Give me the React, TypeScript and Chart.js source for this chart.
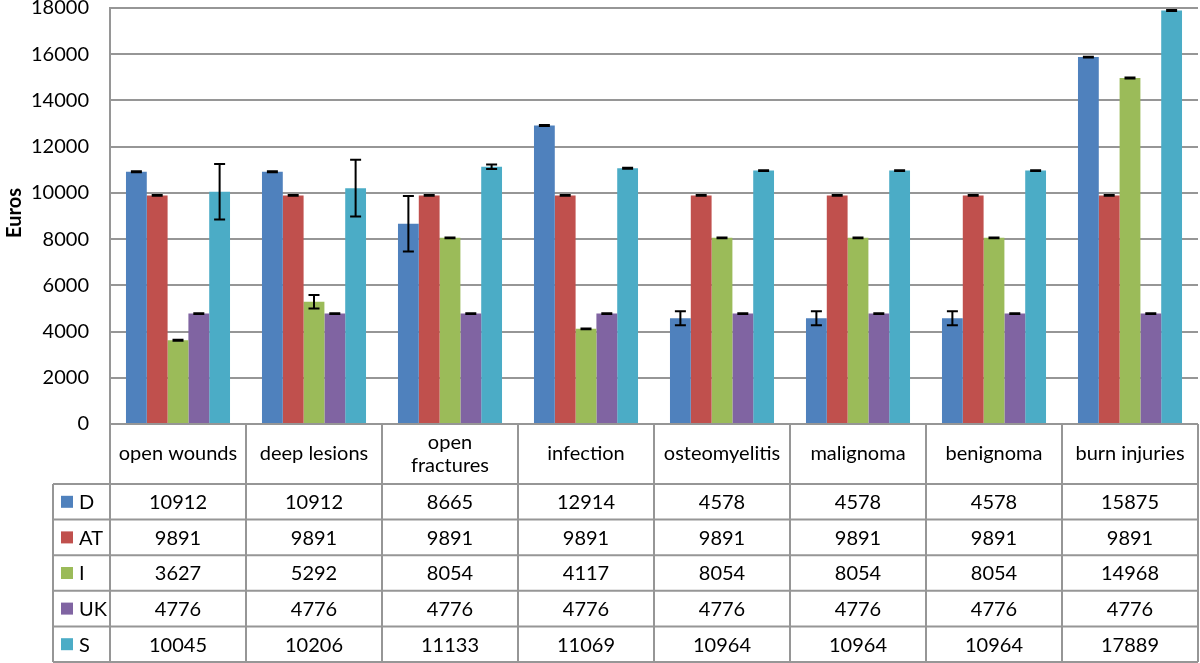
import React, { useEffect, useRef } from 'react';
import { Chart, registerables } from 'chart.js';

Chart.register(...registerables);

const categories = ['open wounds', 'deep lesions', 'open fractures', 'infection', 'osteomyelitis', 'malignoma', 'benignoma', 'burn injuries'];
const seriesNames = ['D', 'AT', 'I', 'UK', 'S'];
const seriesColors = ['#4F81BD', '#C0504D', '#9BBB59', '#8064A2', '#4BACC6'];

const valuesD = [10912, 10912, 8665, 12914, 4578, 4578, 4578, 15875];
const valuesAT = [9891, 9891, 9891, 9891, 9891, 9891, 9891, 9891];
const valuesI = [3627, 5292, 8054, 4117, 8054, 8054, 8054, 14968];
const valuesUK = [4776, 4776, 4776, 4776, 4776, 4776, 4776, 4776];
const valuesS = [10045, 10206, 11133, 11069, 10964, 10964, 10964, 17889];

const errorsD = [20, 20, 1200, 20, 300, 300, 300, 20];
const errorsAT = [20, 20, 20, 20, 20, 20, 20, 20];
const errorsI = [20, 290, 20, 20, 20, 20, 20, 20];
const errorsUK = [20, 20, 20, 20, 20, 20, 20, 20];
const errorsS = [1200, 1230, 100, 20, 20, 20, 20, 20];

const yMin = 0;
const yMax = 18000;
const yStep = 2000;
const yTitle = 'Euros';

const allValues = [valuesD, valuesAT, valuesI, valuesUK, valuesS];
const allErrors = [errorsD, errorsAT, errorsI, errorsUK, errorsS];

const FONT = 'Lato, "Open Sans", sans-serif';
const FS = 20;
const GRID = '#969696';

const tablePlugin = {
  id: 'excelTable',
  afterDatasetsDraw(chart: any) {
    const ctx = chart.ctx;
    const y = chart.scales.y;
    ctx.save();
    ctx.strokeStyle = '#000';
    ctx.lineWidth = 2;
    chart.data.datasets.forEach((ds: any, i: number) => {
      const meta = chart.getDatasetMeta(i);
      const errs = allErrors[i];
      meta.data.forEach((bar: any, j: number) => {
        const v = ds.data[j];
        const e = errs[j];
        const yt = y.getPixelForValue(v + e);
        const yb = y.getPixelForValue(v - e);
        const cw = 5.5;
        ctx.beginPath();
        ctx.moveTo(bar.x, yt);
        ctx.lineTo(bar.x, yb);
        ctx.moveTo(bar.x - cw, yt);
        ctx.lineTo(bar.x + cw, yt);
        ctx.moveTo(bar.x - cw, yb);
        ctx.lineTo(bar.x + cw, yb);
        ctx.stroke();
      });
    });
    ctx.restore();
  },
  afterDraw(chart: any) {
    const ctx = chart.ctx;
    const area = chart.chartArea;
    const n = categories.length;
    const left = area.left;
    const right = area.right;
    const colW = (right - left) / n;
    const top = area.bottom;
    const headerBottom = top + 60;
    const tableBottom = 662;
    const rowH = (tableBottom - headerBottom) / seriesNames.length;
    const legendLeft = 53;

    ctx.save();
    ctx.strokeStyle = GRID;
    ctx.lineWidth = 2;
    ctx.beginPath();
    ctx.moveTo(left, top);
    ctx.lineTo(right, top);
    for (let r = 0; r <= seriesNames.length; r++) {
      const yy = headerBottom + r * rowH;
      ctx.moveTo(legendLeft, yy);
      ctx.lineTo(right, yy);
    }
    for (let k = 0; k <= n; k++) {
      const xx = left + k * colW;
      ctx.moveTo(xx, top);
      ctx.lineTo(xx, tableBottom);
    }
    ctx.moveTo(legendLeft, headerBottom);
    ctx.lineTo(legendLeft, tableBottom);
    ctx.stroke();

    ctx.fillStyle = '#000';
    ctx.font = `${FS}px ${FONT}`;
    ctx.textAlign = 'center';
    ctx.textBaseline = 'middle';
    categories.forEach((cat, k) => {
      const cx = left + (k + 0.5) * colW;
      const cy = (top + headerBottom) / 2;
      if (ctx.measureText(cat).width > colW - 12) {
        const parts = cat.split(' ');
        const lh = 23;
        parts.forEach((p, pi) => {
          ctx.fillText(p, cx, cy + (pi - (parts.length - 1) / 2) * lh);
        });
      } else {
        ctx.fillText(cat, cx, cy);
      }
    });

    seriesNames.forEach((name, r) => {
      const cy = headerBottom + (r + 0.5) * rowH;
      ctx.fillStyle = seriesColors[r];
      ctx.fillRect(61, cy - 6, 12, 12);
      ctx.fillStyle = '#000';
      ctx.textAlign = 'left';
      ctx.fillText(name, 79, cy + 1);
      ctx.textAlign = 'center';
      allValues[r].forEach((v, k) => {
        const cx = left + (k + 0.5) * colW;
        ctx.fillText(String(v), cx, cy + 1);
      });
    });

    ctx.translate(15, 213);
    ctx.rotate(-Math.PI / 2);
    ctx.font = `bold ${FS}px ${FONT}`;
    ctx.textAlign = 'center';
    ctx.fillText(yTitle, 0, 0);
    ctx.restore();
  },
};

export default function App() {
  const ref = useRef<HTMLCanvasElement | null>(null);
  useEffect(() => {
    document.body.style.margin = '0';
    const canvas = ref.current;
    if (!canvas) return;
    const chart = new Chart(canvas, {
      type: 'bar',
      data: {
        labels: categories,
        datasets: seriesNames.map((name, i) => ({
          label: name,
          data: allValues[i],
          backgroundColor: seriesColors[i],
          borderWidth: 0,
          barPercentage: 1,
          categoryPercentage: 0.765,
        })),
      },
      options: {
        animation: false,
        responsive: true,
        maintainAspectRatio: false,
        layout: { padding: { top: 8, bottom: 239, left: 0, right: 2 } },
        plugins: {
          legend: { display: false },
          tooltip: { enabled: false },
        },
        scales: {
          x: { display: false },
          y: {
            min: yMin,
            max: yMax,
            ticks: {
              stepSize: yStep,
              color: '#000',
              font: { family: FONT, size: FS },
              padding: 21,
              callback: (v: any) => String(v),
            },
            grid: { color: GRID, lineWidth: 2, drawTicks: false },
            border: { display: true, color: GRID, width: 2 },
            afterFit: (s: any) => {
              s.width = 110;
              s.paddingTop = 0;
              s.paddingBottom = 0;
            },
          },
        },
      },
      plugins: [tablePlugin],
    } as any);
    return () => chart.destroy();
  }, []);
  return (
    <div style={{ width: 1200, height: 663, position: 'relative' }}>
      <canvas ref={ref} />
    </div>
  );
}
